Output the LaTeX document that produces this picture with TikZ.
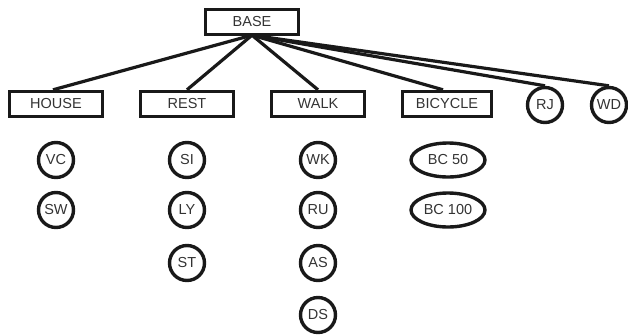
\documentclass[tikz,border=0pt]{standalone}
\usepackage{fontspec}
\setmainfont{Liberation Sans}
\usetikzlibrary{shapes.geometric}
\begin{document}
\begin{tikzpicture}[x=1pt,y=-1pt,
  every node/.style={font=\fontsize{14.5}{16}\selectfont, text=black!80},
  boxnode/.style={draw=black!90, line width=3.4pt, minimum width=93pt, minimum height=25pt, inner sep=0pt},
  circnode/.style={draw=black!90, line width=3.4pt, circle, minimum size=35pt, inner sep=0pt},
  ellnode/.style={draw=black!90, line width=3.4pt, ellipse, minimum width=74pt, minimum height=34pt, inner sep=0pt},
  link/.style={draw=black!90, line width=3.2pt}]
\useasboundingbox (0,0) rectangle (628,335);
\node[boxnode] (base) at (252,22) {BASE};
\node[boxnode] (house) at (56,104) {HOUSE};
\node[boxnode] (rest) at (187,104) {REST};
\node[boxnode] (walk) at (318,104) {WALK};
\node[boxnode, minimum width=89pt] (bicycle) at (447,104) {BICYCLE};
\node[circnode] (rj) at (545,105) {RJ};
\node[circnode] (wd) at (609,105) {WD};
\node[circnode] (vc) at (56,160) {VC};
\node[circnode] (sw) at (56,210) {SW};
\node[circnode] (si) at (187,160) {SI};
\node[circnode] (ly) at (187,210) {LY};
\node[circnode] (st) at (187,263) {ST};
\node[circnode] (wk) at (318,160) {WK};
\node[circnode] (ru) at (318,210) {RU};
\node[circnode] (as) at (318,263) {AS};
\node[circnode] (ds) at (318,315) {DS};
\node[ellnode] (bc50) at (448,160) {BC 50};
\node[ellnode] (bc100) at (448,210) {BC 100};
\coordinate (hub) at ([yshift=1pt]base.south);
\draw[link] (hub) -- ([xshift=-3pt]house.north);
\draw[link] (hub) -- (rest.north);
\draw[link] (hub) -- (walk.north);
\draw[link] (hub) -- ([xshift=-4pt]bicycle.north);
\draw[link] (hub) -- (rj.north);
\draw[link] (hub) -- (wd.north);
\end{tikzpicture}
\end{document}
